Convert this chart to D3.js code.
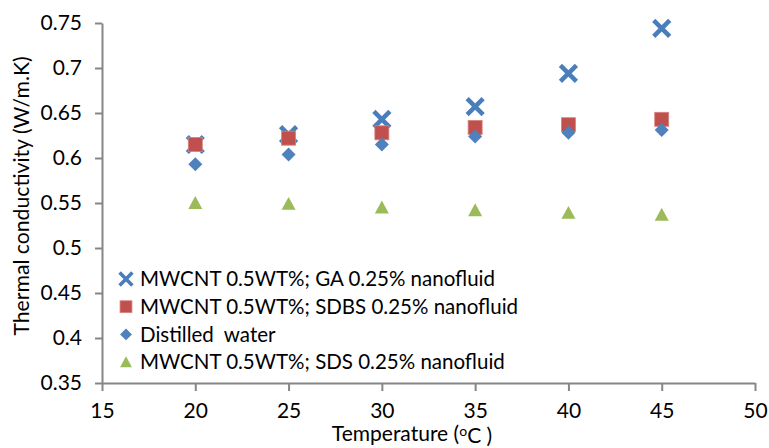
<!DOCTYPE html>
<html>
<head>
<meta charset="utf-8">
<script src="https://cdn.jsdelivr.net/npm/d3@7"></script>
<style>
  body { margin: 0; background: #fff; }
  text { font-family: Lato, "Open Sans", sans-serif; fill: #000; }
</style>
</head>
<body>
<div id="chart"></div>
<script>
// Data
const temperatures = [20, 25, 30, 35, 40, 45];
const gaValues = [0.615, 0.626, 0.643, 0.657, 0.694, 0.744];
const sdbsValues = [0.615, 0.622, 0.628, 0.634, 0.637, 0.643];
const waterValues = [0.593, 0.604, 0.615, 0.624, 0.628, 0.631];
const sdsValues = [0.550, 0.549, 0.545, 0.542, 0.539, 0.537];
const xTicks = [15, 20, 25, 30, 35, 40, 45, 50];
const yTicks = [0.35, 0.4, 0.45, 0.5, 0.55, 0.6, 0.65, 0.7, 0.75];

const series = [
  { name: "MWCNT 0.5WT%; GA 0.25% nanofluid", values: gaValues, shape: "cross", color: "#4a7ebb" },
  { name: "MWCNT 0.5WT%; SDBS 0.25% nanofluid", values: sdbsValues, shape: "square", color: "#c0504d" },
  { name: "Distilled  water", values: waterValues, shape: "diamond", color: "#4f81bd" },
  { name: "MWCNT 0.5WT%; SDS 0.25% nanofluid", values: sdsValues, shape: "triangle", color: "#9bbb59" },
];

// Dimensions
const dimensions = { width: 769, height: 448, left: 102, right: 755, top: 23, bottom: 383 };

const svg = d3.select("#chart").append("svg")
  .attr("width", dimensions.width)
  .attr("height", dimensions.height);

// Scales
const xScale = d3.scaleLinear().domain([15, 50]).range([dimensions.left, dimensions.right]);
const yScale = d3.scaleLinear().domain([0.35, 0.75]).range([dimensions.bottom, dimensions.top]);

// Axes
const axisColor = "#868686";
const xAxis = d3.axisBottom(xScale).tickValues(xTicks).tickSize(8).tickSizeOuter(0).tickPadding(11)
  .tickFormat(d3.format("d"));
const yAxis = d3.axisLeft(yScale).tickValues(yTicks).tickSize(7).tickSizeOuter(0).tickPadding(13)
  .tickFormat((d) => String(+d.toFixed(2)));

const gx = svg.append("g").attr("transform", `translate(0, ${dimensions.bottom})`).call(xAxis);
const gy = svg.append("g").attr("transform", `translate(${dimensions.left}, 0)`).call(yAxis);
[gx, gy].forEach((g) => {
  g.select(".domain").attr("stroke", axisColor).attr("stroke-width", 2);
  g.selectAll(".tick line").attr("stroke", axisColor).attr("stroke-width", 2);
  g.selectAll(".tick text").style("font-size", "21px").attr("fill", "#000");
});
gx.selectAll(".tick text").attr("dy", "0.75em");

// Marker drawing
function drawMarker(g, shape, color, s) {
  if (shape === "cross") {
    const h = 8 * s;
    g.append("path")
      .attr("d", `M${-h},${-h}L${h},${h}M${-h},${h}L${h},${-h}`)
      .attr("stroke", color).attr("stroke-width", 4.5 * s).attr("fill", "none");
  } else if (shape === "square") {
    const h = 7 * s;
    g.append("rect").attr("x", -h).attr("y", -h).attr("width", 2 * h).attr("height", 2 * h)
      .attr("fill", color).attr("stroke", "#d9827f").attr("stroke-width", 0.8);
  } else if (shape === "diamond") {
    const h = 7 * s;
    g.append("path").attr("d", `M0,${-h}L${h},0L0,${h}L${-h},0Z`).attr("fill", color);
  } else {
    const h = 7 * s;
    g.append("path").attr("d", `M0,${-h}L${h},${h * 0.85}L${-h},${h * 0.85}Z`).attr("fill", color);
  }
}

// Points
series.forEach((sr) => {
  const grp = svg.append("g");
  sr.values.forEach((v, i) => {
    const m = grp.append("g").attr("transform", `translate(${xScale(temperatures[i])}, ${yScale(v)})`);
    drawMarker(m, sr.shape, sr.color, 1);
  });
});

// Legend
const legend = svg.append("g").attr("transform", "translate(126, 279)");
series.forEach((sr, i) => {
  const row = legend.append("g").attr("transform", `translate(0, ${i * 27.7})`);
  drawMarker(row.append("g"), sr.shape, sr.color, sr.shape === "cross" ? 0.8 : 0.85);
  row.append("text").attr("x", 14).attr("y", 0).attr("dy", "0.36em")
    .style("font-size", "20.5px").style("white-space", "pre").text(sr.name);
});

// Axis titles
svg.append("text")
  .attr("transform", "translate(22, 196) rotate(-90)")
  .attr("text-anchor", "middle").attr("dy", "0.35em")
  .style("font-size", "21.2px").text("Thermal conductivity (W/m.K)");

const xTitle = svg.append("text")
  .attr("x", 412).attr("y", 434).attr("text-anchor", "middle").attr("dy", "0.32em")
  .style("font-size", "21px");
xTitle.append("tspan").text("Temperature (");
xTitle.append("tspan").attr("dy", "-0.35em").style("font-size", "14px").text("o");
xTitle.append("tspan").attr("dy", "0.35em").text("C )");
</script>
</body>
</html>
